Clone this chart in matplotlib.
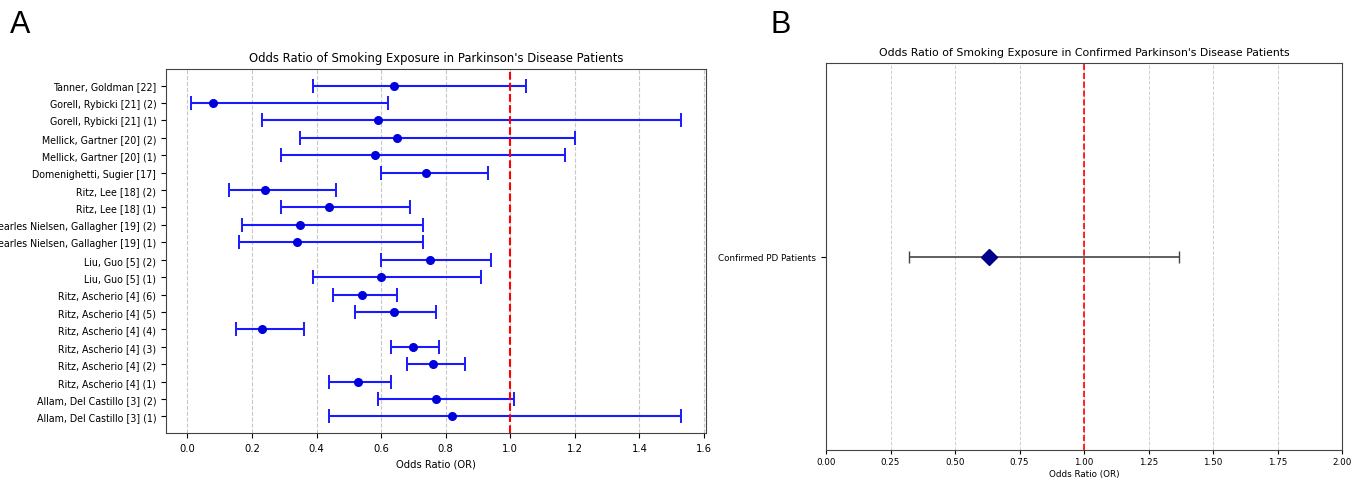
import matplotlib
matplotlib.use("Agg")
import matplotlib.pyplot as plt

# ---- Panel A data (bottom to top order as displayed) ----
studies = [
    "Allam, Del Castillo [3] (1)",
    "Allam, Del Castillo [3] (2)",
    "Ritz, Ascherio [4] (1)",
    "Ritz, Ascherio [4] (2)",
    "Ritz, Ascherio [4] (3)",
    "Ritz, Ascherio [4] (4)",
    "Ritz, Ascherio [4] (5)",
    "Ritz, Ascherio [4] (6)",
    "Liu, Guo [5] (1)",
    "Liu, Guo [5] (2)",
    "Searles Nielsen, Gallagher [19] (1)",
    "Searles Nielsen, Gallagher [19] (2)",
    "Ritz, Lee [18] (1)",
    "Ritz, Lee [18] (2)",
    "Domenighetti, Sugier [17]",
    "Mellick, Gartner [20] (1)",
    "Mellick, Gartner [20] (2)",
    "Gorell, Rybicki [21] (1)",
    "Gorell, Rybicki [21] (2)",
    "Tanner, Goldman [22]",
]
odds_ratio = [0.82, 0.77, 0.53, 0.76, 0.70, 0.23, 0.64, 0.54, 0.60, 0.75,
              0.34, 0.35, 0.44, 0.24, 0.74, 0.58, 0.65, 0.59, 0.08, 0.64]
ci_lower = [0.44, 0.59, 0.44, 0.68, 0.63, 0.15, 0.52, 0.45, 0.39, 0.60,
            0.16, 0.17, 0.29, 0.13, 0.60, 0.29, 0.35, 0.23, 0.01, 0.39]
ci_upper = [1.53, 1.01, 0.63, 0.86, 0.78, 0.36, 0.77, 0.65, 0.91, 0.94,
            0.73, 0.73, 0.69, 0.46, 0.93, 1.17, 1.20, 1.53, 0.62, 1.05]
a_xticks = [0.0, 0.2, 0.4, 0.6, 0.8, 1.0, 1.2, 1.4, 1.6]

# ---- Panel B data ----
pooled_label = ["Confirmed PD Patients"]
pooled_or = [0.63]
pooled_lower = [0.32]
pooled_upper = [1.37]
b_xticks = [0.00, 0.25, 0.50, 0.75, 1.00, 1.25, 1.50, 1.75, 2.00]

W, H = 1367, 481
fig = plt.figure(figsize=(W / 100, H / 100), dpi=100)

def box(l, t, r, b):
    return [l / W, 1 - b / H, (r - l) / W, (b - t) / H]

# ---------------- Panel A ----------------
axA = fig.add_axes(box(166, 70, 706, 434))
ypos = list(range(len(studies)))
xerr = [[o - l for o, l in zip(odds_ratio, ci_lower)],
        [u - o for o, u in zip(odds_ratio, ci_upper)]]
axA.errorbar(odds_ratio, ypos, xerr=xerr, fmt='o', color='#0000dd',
             ecolor='#1a1aff', elinewidth=1.5, capsize=5, capthick=1.4,
             markersize=5.5)
axA.axvline(1.0, color='red', linestyle='--', linewidth=1.5)
axA.set_yticks(ypos)
axA.set_yticklabels(studies, fontsize=6.85)
axA.set_xticks(a_xticks)
axA.tick_params(axis='x', labelsize=7.2)
axA.set_xlabel("Odds Ratio (OR)", fontsize=7.2)
axA.set_title("Odds Ratio of Smoking Exposure in Parkinson's Disease Patients",
              fontsize=8.35)
axA.grid(axis='x', linestyle='--', color='#c8c8c8', linewidth=0.8)
axA.set_axisbelow(True)
for s in axA.spines.values():
    s.set_color('#444444')

# ---------------- Panel B ----------------
axB = fig.add_axes(box(826, 64, 1342, 451))
bxerr = [[o - l for o, l in zip(pooled_or, pooled_lower)],
         [u - o for o, u in zip(pooled_or, pooled_upper)]]
axB.errorbar(pooled_or, [0], xerr=bxerr, fmt='D', color='#00008b',
             ecolor='#444444', elinewidth=1.2, capsize=4, capthick=1.0,
             markersize=8)
axB.axvline(1.0, color='red', linestyle='--', linewidth=1.2)
axB.set_ylim(-1, 1)
axB.set_xlim(0, 2)
axB.set_yticks([0])
axB.set_yticklabels(pooled_label, fontsize=6.3)
axB.set_xticks(b_xticks)
axB.set_xticklabels([f"{v:.2f}" for v in b_xticks], fontsize=6.3)
axB.tick_params(axis='x', pad=2, length=3)
axB.set_xlabel("Odds Ratio (OR)", fontsize=6.3, labelpad=2)
axB.set_title("Odds Ratio of Smoking Exposure in Confirmed Parkinson's Disease Patients",
              fontsize=7.85)
axB.grid(axis='x', linestyle='--', color='#d0d0d0', linewidth=0.7)
axB.set_axisbelow(True)
for s in axB.spines.values():
    s.set_color('#444444')

fig.text(10 / W, 1 - 33 / H, "A", fontsize=22, family="Liberation Sans",
         ha='left', va='baseline')
fig.text(770 / W, 1 - 33 / H, "B", fontsize=22, family="Liberation Sans",
         ha='left', va='baseline')

fig.savefig("out.png", dpi=100)
